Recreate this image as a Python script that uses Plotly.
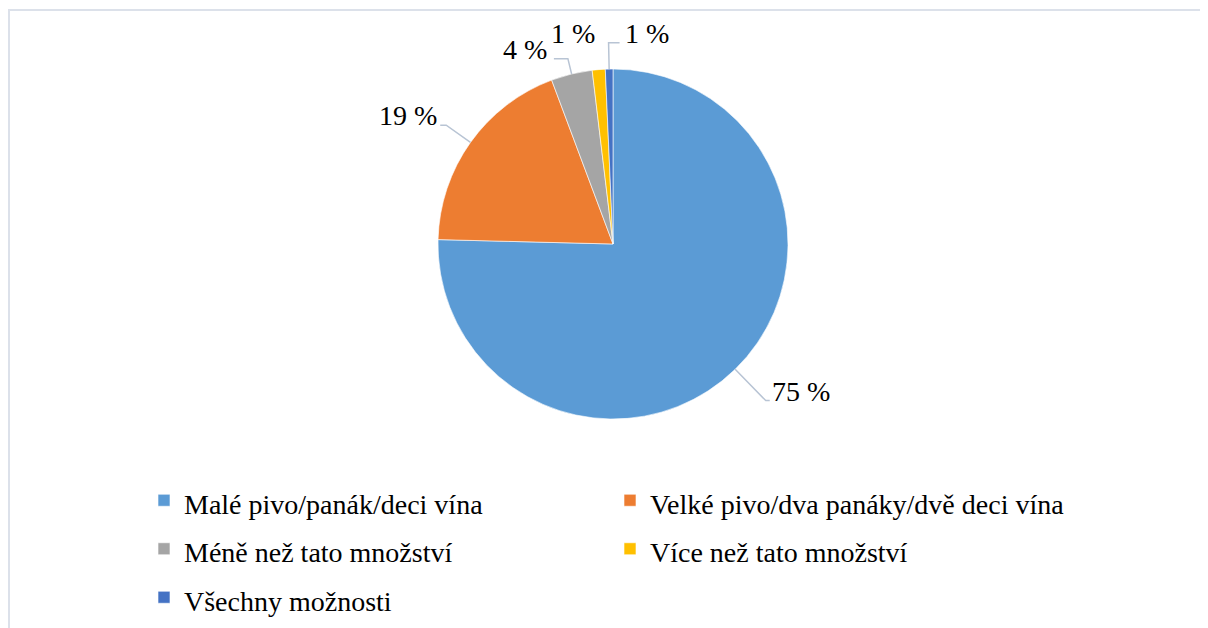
import math
import plotly.graph_objects as go

# ---- data ----
categories = [
    "Malé pivo/panák/deci vína",
    "Velké pivo/dva panáky/dvě deci vína",
    "Méně než tato množství",
    "Více než tato množství",
    "Všechny možnosti",
]
shares = [75.4, 18.9, 3.8, 1.2, 0.7]
colors = ["#5B9BD5", "#ED7D31", "#A5A5A5", "#FFC000", "#4472C4"]

# ---- layout config ----
OFF = 8                      # page body margin of the html page
W, H = 1208 - OFF, 628 - OFF  # figure size
CX, CY, R = 613 - OFF, 244 - OFF, 175
FONT = "Liberation Serif"
FS_LABEL = 28
FS_LEG = 28
label_radius = [1.25, 1.17, 1.09, 1.15, 1.15]
label_side = [1, -1, -1, -1, 1]
label_tail = [4, 6, 14, 0, 11]
label_gap = [0, 1, 5, 0, 3]
label_leader = [True, True, True, False, True]
LEADER_COLOR = "#B8C4D4"


def px(x):
    return x / W


def py(y):
    return 1 - y / H


fig = go.Figure()
fig.add_trace(go.Pie(
    labels=[f"<span style='font-size:{FS_LEG}px'>{c}</span>" for c in categories],
    values=shares,
    sort=False,
    direction="clockwise",
    rotation=0,
    marker=dict(colors=colors, line=dict(color="white", width=0.6)),
    textinfo="none",
    hoverinfo="label+percent",
    domain=dict(x=[px(CX - R), px(CX + R)], y=[py(CY + R), py(CY - R)]),
))

# percent labels with leader lines, placed from slice mid-angles
total = sum(shares)
cum = 0.0
annotations = []
shapes = []
for i, v in enumerate(shares):
    mid = (cum + v / 2) / total * 2 * math.pi
    cum += v
    sx, sy = math.sin(mid), -math.cos(mid)
    ex, ey = CX + R * sx, CY + R * sy
    rr = R * label_radius[i]
    bx, by = CX + rr * sx, CY + rr * sy
    tx = bx + label_side[i] * label_tail[i]
    if label_leader[i]:
        shapes.append(dict(
            type="path", xref="paper", yref="paper",
            path=f"M {px(ex)} {py(ey)} L {px(bx)} {py(by)} L {px(tx)} {py(by)}",
            line=dict(color=LEADER_COLOR, width=1.5),
        ))
    annotations.append(dict(
        x=px(tx + label_side[i] * label_gap[i]), y=py(by - 0.34 * FS_LABEL),
        xref="paper", yref="paper",
        xanchor="left" if label_side[i] > 0 else "right", yanchor="middle",
        text=f"{round(v):.0f} %", showarrow=False,
        font=dict(family=FONT, size=FS_LABEL, color="black"),
    ))

# chart frame (top and left edges visible)
shapes.append(dict(type="line", xref="paper", yref="paper",
                   x0=px(0), y0=py(2), x1=1.01, y1=py(2),
                   line=dict(color="#DCE1EA", width=2)))
shapes.append(dict(type="line", xref="paper", yref="paper",
                   x0=px(1), y0=py(2), x1=px(1), y1=-0.01,
                   line=dict(color="#DCE1EA", width=2)))

fig.update_layout(
    width=W, height=H,
    margin=dict(l=0, r=0, t=0, b=0),
    paper_bgcolor="white",
    plot_bgcolor="white",
    font=dict(family=FONT, color="black"),
    showlegend=True,
    legend=dict(
        orientation="h",
        x=px(144 - OFF), xanchor="left",
        y=py(471 - OFF), yanchor="top",
        entrywidth=421, entrywidthmode="pixels",
        font=dict(family=FONT, size=35, color="black"),
        bgcolor="rgba(0,0,0,0)",
    ),
    annotations=annotations,
    shapes=shapes,
)

fig.write_html("out.html")
